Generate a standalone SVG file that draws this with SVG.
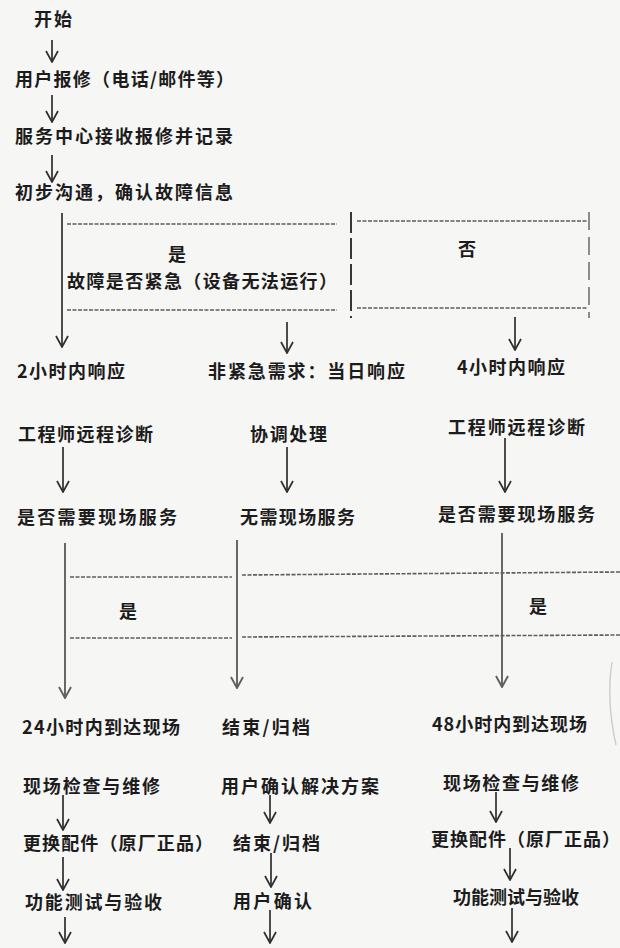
<svg xmlns="http://www.w3.org/2000/svg" width="620" height="948" viewBox="0 0 620 948">
<style>
  .t{font-family:"Noto Sans CJK SC","Noto Sans CJK JP",sans-serif;font-size:18px;font-weight:bold;fill:#1c1c1c;}
  .c{text-anchor:middle;}
  .ln{stroke:#2e2e2e;stroke-width:1.7;fill:none;}
  .lg{stroke:#606060;stroke-width:1.9;fill:none;}
  .dash{stroke:#5e5e5e;stroke-width:1.6;stroke-dasharray:4 1.5;fill:none;}
  .sep{stroke:#2e2e2e;stroke-width:1.9;stroke-dasharray:21 5;fill:none;}
  .sep2{stroke:#7a7a7a;stroke-width:1.7;stroke-dasharray:18 7;fill:none;}
</style>
<defs>
  <marker id="arr" viewBox="-1 -7 13 14" refX="11" refY="0" markerWidth="13" markerHeight="14" markerUnits="userSpaceOnUse" orient="auto">
    <path d="M0,-6 L11,0 L0,6" fill="none" stroke="#2e2e2e" stroke-width="1.7"/>
  </marker>
  <marker id="arrg" viewBox="-1 -7 13 14" refX="11" refY="0" markerWidth="13" markerHeight="14" markerUnits="userSpaceOnUse" orient="auto">
    <path d="M0,-6 L11,0 L0,6" fill="none" stroke="#606060" stroke-width="1.9"/>
  </marker>
</defs>
<rect width="620" height="948" fill="#f6f6f5"/>

<!-- decision areas (dashed bands) -->
<g id="decision-urgent">
  <line class="dash" x1="67" y1="224" x2="337" y2="224"/>
  <line class="dash" x1="67" y1="310" x2="337" y2="310"/>
  <line class="dash" x1="357" y1="221" x2="587" y2="221"/>
  <line class="dash" x1="357" y1="308" x2="587" y2="308"/>
  <line class="sep" x1="351" y1="212" x2="351" y2="318"/>
  <line class="sep2" x1="589" y1="212" x2="589" y2="318"/>
  <text class="t c" x="177" y="261">是</text>
  <text class="t" x="67" y="288" textLength="270">故障是否紧急（设备无法运行）</text>
  <text class="t c" x="467" y="256">否</text>
</g>
<g id="decision-onsite">
  <line class="dash" x1="70" y1="577" x2="232" y2="577"/>
  <line class="dash" x1="242" y1="575" x2="620" y2="572"/>
  <line class="dash" x1="70" y1="638" x2="232" y2="638"/>
  <line class="dash" x1="242" y1="637" x2="620" y2="635"/>
  <text class="t c" x="128" y="618">是</text>
  <text class="t c" x="538" y="613">是</text>
</g>

<!-- nodes -->
<g id="n-start"><text class="t" x="34" y="26" textLength="38">开始</text></g>
<g id="n-report"><text class="t" x="15" y="86" textLength="219">用户报修（电话/邮件等）</text></g>
<g id="n-record"><text class="t" x="15" y="143" textLength="218">服务中心接收报修并记录</text></g>
<g id="n-confirm"><text class="t" x="15" y="199" textLength="218">初步沟通，确认故障信息</text></g>

<g id="n-2h"><text class="t" x="17" y="378" textLength="108">2小时内响应</text></g>
<g id="n-sameday"><text class="t" x="208" y="378" textLength="197">非紧急需求：当日响应</text></g>
<g id="n-4h"><text class="t" x="457" y="374" textLength="108">4小时内响应</text></g>

<g id="n-remote-l"><text class="t" x="18" y="441" textLength="135">工程师远程诊断</text></g>
<g id="n-coord"><text class="t" x="250" y="441" textLength="77">协调处理</text></g>
<g id="n-remote-r"><text class="t" x="448" y="434" textLength="137">工程师远程诊断</text></g>

<g id="n-need-l"><text class="t" x="17" y="524" textLength="160">是否需要现场服务</text></g>
<g id="n-noneed"><text class="t" x="240" y="524" textLength="115">无需现场服务</text></g>
<g id="n-need-r"><text class="t" x="438" y="521" textLength="157">是否需要现场服务</text></g>

<g id="n-24h"><text class="t" x="22" y="734" textLength="158">24小时内到达现场</text></g>
<g id="n-end1"><text class="t" x="222" y="734" textLength="88">结束/归档</text></g>
<g id="n-48h"><text class="t" x="432" y="731" textLength="155">48小时内到达现场</text></g>

<g id="n-repair-l"><text class="t" x="23" y="793" textLength="137">现场检查与维修</text></g>
<g id="n-usersol"><text class="t" x="221" y="793" textLength="158">用户确认解决方案</text></g>
<g id="n-repair-r"><text class="t" x="443" y="790" textLength="136">现场检查与维修</text></g>

<g id="n-parts-l"><text class="t" x="23" y="850" textLength="190">更换配件（原厂正品）</text></g>
<g id="n-end2"><text class="t" x="233" y="850" textLength="87">结束/归档</text></g>
<g id="n-parts-r"><text class="t" x="431" y="846" textLength="189">更换配件（原厂正品）</text></g>

<g id="n-test-l"><text class="t" x="25" y="909" textLength="137">功能测试与验收</text></g>
<g id="n-userok"><text class="t" x="233" y="908" textLength="79">用户确认</text></g>
<g id="n-test-r"><text class="t" x="453" y="904" textLength="126">功能测试与验收</text></g>

<!-- connectors -->
<g id="connectors">
  <line class="ln" x1="52" y1="40" x2="52" y2="62" marker-end="url(#arr)"/>
  <line class="ln" x1="52" y1="95" x2="52" y2="122" marker-end="url(#arr)"/>
  <line class="ln" x1="52" y1="155" x2="52" y2="182" marker-end="url(#arr)"/>
  <line class="ln" x1="62" y1="213" x2="62" y2="347" marker-end="url(#arr)"/>
  <line class="ln" x1="287" y1="322" x2="287" y2="353" marker-end="url(#arr)"/>
  <line class="ln" x1="515" y1="317" x2="515" y2="350" marker-end="url(#arr)"/>
  <line class="ln" x1="63" y1="447" x2="63" y2="492" marker-end="url(#arr)"/>
  <line class="ln" x1="287" y1="447" x2="287" y2="492" marker-end="url(#arr)"/>
  <line class="ln" x1="505" y1="438" x2="505" y2="492" marker-end="url(#arr)"/>
  <line class="lg" x1="65" y1="543" x2="65" y2="698" marker-end="url(#arrg)"/>
  <line class="lg" x1="237" y1="540" x2="237" y2="688" marker-end="url(#arrg)"/>
  <line class="lg" x1="502" y1="533" x2="502" y2="687" marker-end="url(#arrg)"/>
  <line class="ln" x1="63" y1="795" x2="63" y2="830" marker-end="url(#arr)"/>
  <line class="ln" x1="63" y1="857" x2="63" y2="890" marker-end="url(#arr)"/>
  <line class="ln" x1="65" y1="917" x2="65" y2="943" marker-end="url(#arr)"/>
  <line class="ln" x1="270" y1="795" x2="270" y2="823" marker-end="url(#arr)"/>
  <line class="ln" x1="271" y1="853" x2="271" y2="887" marker-end="url(#arr)"/>
  <line class="ln" x1="270" y1="910" x2="270" y2="943" marker-end="url(#arr)"/>
  <line class="ln" x1="496" y1="792" x2="496" y2="822" marker-end="url(#arr)"/>
  <line class="ln" x1="510" y1="848" x2="510" y2="880" marker-end="url(#arr)"/>
  <line class="ln" x1="512" y1="908" x2="512" y2="942" marker-end="url(#arr)"/>
</g>

<path d="M612,662 Q606,700 616,745" fill="none" stroke="#cfcfcf" stroke-width="1.5"/>
</svg>
